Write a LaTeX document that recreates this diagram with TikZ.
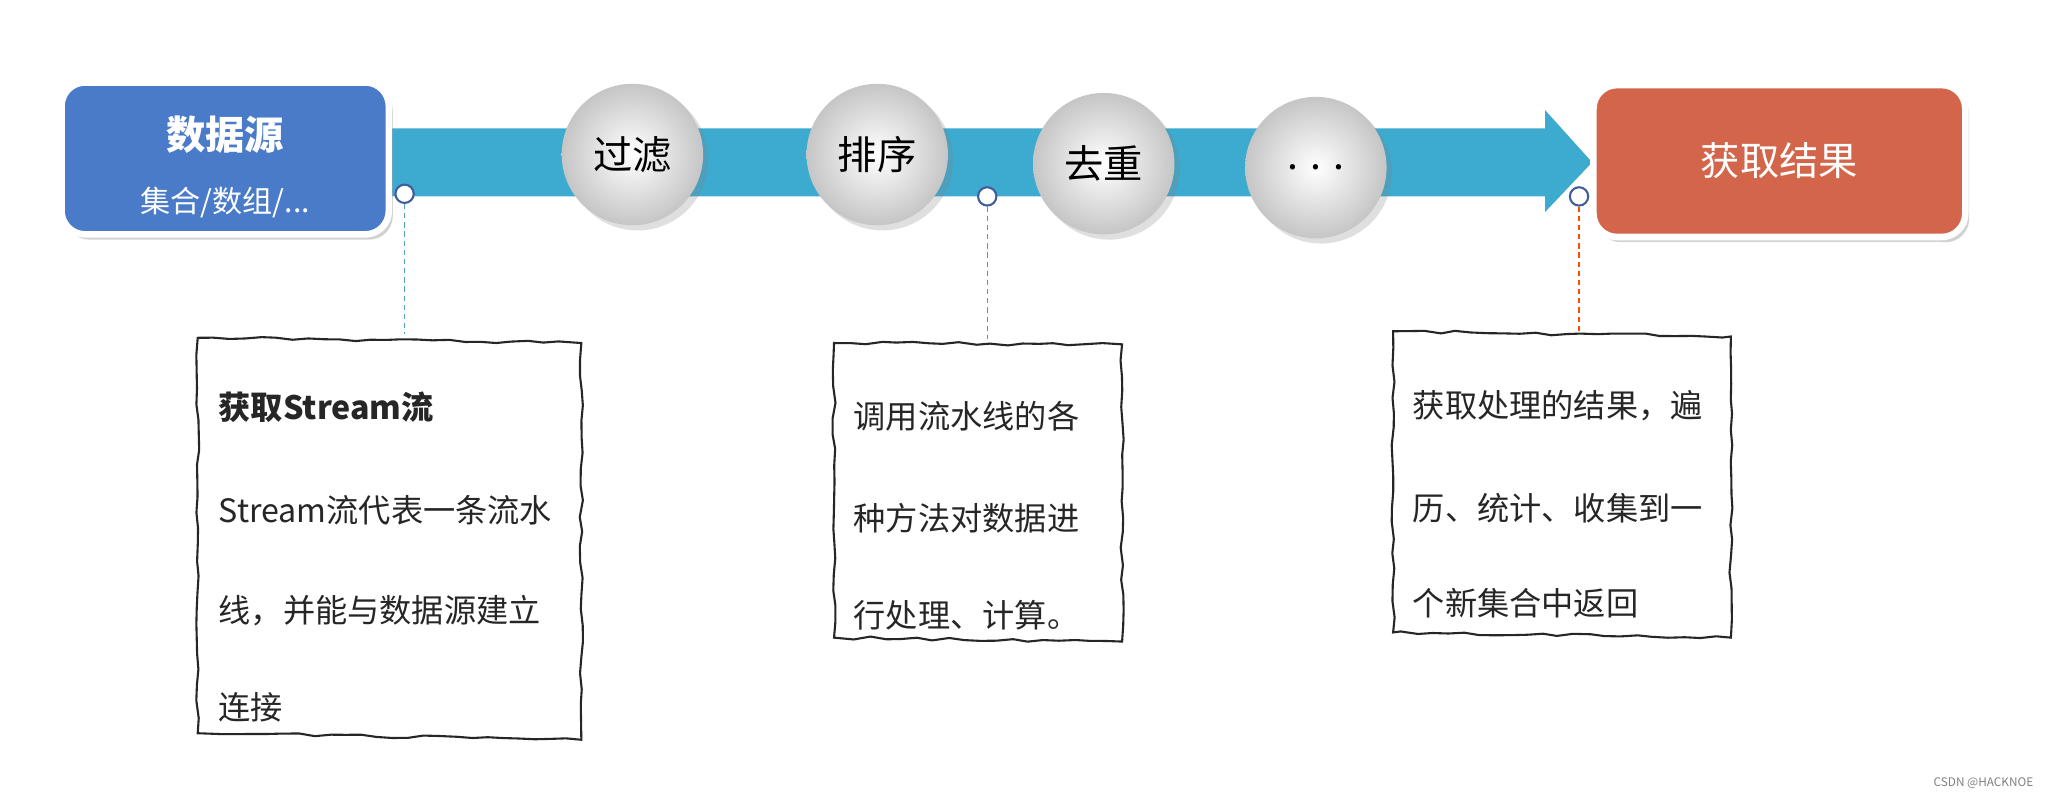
\documentclass[tikz,border=0pt]{standalone}
\usepackage{fontspec}
\setmainfont{Noto Sans CJK SC}
\usetikzlibrary{shadows,decorations.pathmorphing,shapes.arrows}
\definecolor{srcblue}{HTML}{4A7BC8}
\definecolor{resred}{HTML}{D3654B}
\definecolor{band}{HTML}{3DAAD0}
\definecolor{ringblue}{HTML}{3F5E9A}
\tikzset{
  bigbox/.style={rounded corners=9pt, draw=white, line width=2.5pt, drop shadow={opacity=0.35,shadow xshift=1.5pt,shadow yshift=-2pt}},
  ball/.style={circle, minimum size=54pt, inner sep=0pt, shading=radial, inner color=white, outer color=gray!45, drop shadow={opacity=0.25,shadow xshift=2pt,shadow yshift=-2pt}, font=\fontsize{15}{17}\selectfont},
  pin/.style={circle, draw=ringblue, fill=white, line width=0.8pt, minimum size=7pt, inner sep=0pt},
  note/.style={draw=black!85, line width=0.8pt, decorate, decoration={random steps, segment length=6pt, amplitude=0.6pt}},
  notetext/.style={anchor=west, font=\fontsize{12.3}{14}\selectfont, text=black!85},
  lead/.style={dashed, line width=0.5pt, dash pattern=on 2pt off 1.5pt}
}
\begin{document}
\begin{tikzpicture}[x=0.5pt,y=-0.5pt]
\pgfmathsetseed{7}
\fill[white] (0,0) rectangle (1568,610);
\useasboundingbox (0,0) rectangle (1568,610);
% band arrow
\fill[band] (298,98) -- (1180,98) -- (1180,84) -- (1216,124) -- (1180,162) -- (1180,150) -- (298,150) -- cycle;
% boxes
\node[bigbox, fill=srcblue, minimum width=125pt, minimum height=58pt] (src) at (172,121) {};
\node[text=white, font=\bfseries\fontsize{15}{17}\selectfont] (srct) at (172,103) {数据源};
\node[text=white, font=\fontsize{11.5}{13}\selectfont] (srcs) at (172,155) {集合/数组/...};
\node[bigbox, fill=resred, minimum width=142pt, minimum height=58pt, text=white, font=\fontsize{15}{17}\selectfont] (res) at (1359,123) {获取结果};
% balls
\node[ball] (b1) at (483,118) {过滤};
\node[ball] (b2) at (670,118) {排序};
\node[ball] (b3) at (843,125) {去重};
\node[ball] (b4) at (1005,128) {. . .};
% pins
\node[pin] (p1) at (309,148) {};
\node[pin] (p2) at (754,150) {};
\node[pin] (p3) at (1206,150) {};
\coordinate (n1) at (309,255);
\coordinate (n2) at (754,259);
\coordinate (n3) at (1206,253);
\draw[lead, draw=teal!70] (p1) -- (n1);
\draw[lead, draw=violet!60] (p2) -- (n2);
\draw[lead, draw=orange!60!red] (p3) -- (n3);
% notes
\draw[note] (151,258) -- (444,262) -- (444,565) -- (151,560) -- cycle;
\draw[note] (637,262) -- (857,263) -- (857,490) -- (637,487) -- cycle;
\draw[note] (1064,253) -- (1322,257) -- (1322,487) -- (1064,483) -- cycle;
\node[notetext, font=\bfseries\fontsize{12.3}{14}\selectfont] (t11) at (160,311) {获取Stream流};
\node[notetext] (t12) at (160,390) {Stream流代表一条流水};
\node[notetext] (t13) at (160,466) {线，并能与数据源建立};
\node[notetext] (t14) at (160,540) {连接};
\node[notetext] (t21) at (645,318) {调用流水线的各};
\node[notetext] (t22) at (645,396) {种方法对数据进};
\node[notetext] (t23) at (645,470) {行处理、计算。};
\node[notetext] (t31) at (1072,310) {获取处理的结果，遍};
\node[notetext] (t32) at (1072,388) {历、统计、收集到一};
\node[notetext] (t33) at (1072,461) {个新集合中返回};
\node[anchor=east, text=gray, font=\fontsize{4.5}{5}\selectfont] (wm) at (1560,598) {CSDN @HACKNOE};
\end{tikzpicture}
\end{document}
